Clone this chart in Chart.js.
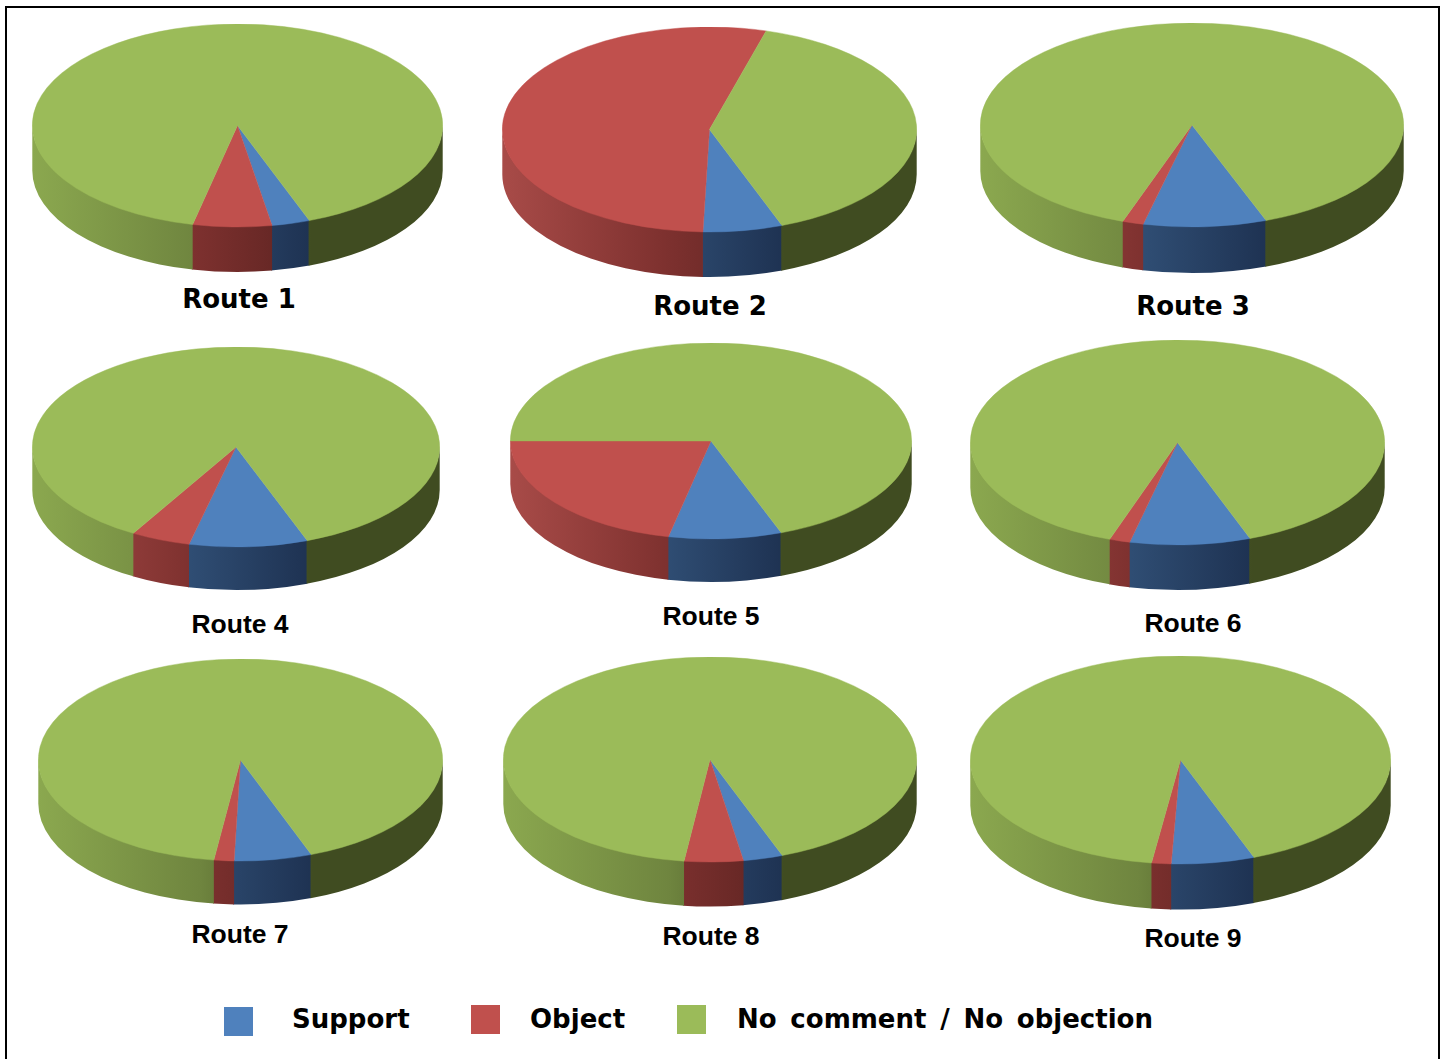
<!DOCTYPE html>
<html>
<head>
<meta charset="utf-8">
<title>Route responses</title>
<script src="https://cdn.jsdelivr.net/npm/chart.js@4"></script>
<style>
    html, body { margin: 0; background: #ffffff; }
    #page { position: relative; width: 1446px; height: 1059px; overflow: hidden; }
    #frame { position: absolute; left: 5px; top: 6px; width: 1431px; height: 1100px; border: 2px solid #000000; }
    canvas { position: absolute; }
    .swatch { position: absolute; width: 29px; height: 29px; }
    #labels { position: absolute; left: 0; top: 0; }
</style>
</head>
<body>
<div id="page">
    <div id="frame"></div>
    <svg id="labels" width="1446" height="1059"></svg>
</div>
<script>
// share of responses per route, in percent
const routes = ['Route 1', 'Route 2', 'Route 3', 'Route 4', 'Route 5', 'Route 6', 'Route 7', 'Route 8', 'Route 9'];
const seriesNames = ['Support', 'Object', 'No comment / No objection'];
const support = [3.0, 6.2, 9.4, 9.4, 9.1, 9.4, 6.2, 3.1, 6.4];
const object = [6.2, 53.9, 1.6, 4.7, 21.6, 1.6, 1.6, 4.6, 1.5];
const noComment = [90.8, 39.9, 89.0, 85.9, 69.3, 89.0, 92.2, 92.3, 92.1];

// where each tilted pie sits on the page
const pieBoxes = [
    { cx: 237.5, cy: 125.5, rx: 205.5, ry: 101.5, depth: 45 },
    { cx: 709.5, cy: 129.5, rx: 207.5, ry: 102.5, depth: 45 },
    { cx: 1192, cy: 125, rx: 212, ry: 102, depth: 46 },
    { cx: 236, cy: 447, rx: 204, ry: 100, depth: 43 },
    { cx: 711, cy: 441, rx: 201, ry: 98, depth: 43 },
    { cx: 1177.5, cy: 442.5, rx: 207.5, ry: 102.5, depth: 45 },
    { cx: 240.5, cy: 760, rx: 202.5, ry: 101, depth: 43.5 },
    { cx: 710, cy: 759.5, rx: 207, ry: 102.5, depth: 44.5 },
    { cx: 1180.5, cy: 760, rx: 210.5, ry: 104, depth: 45.5 }
];
const routeLabelX = [239, 710, 1193, 240, 711, 1193, 240, 711, 1193];
const routeLabelY = [308, 315, 315, 633, 625, 632, 943, 945, 947];

const topColors = ['#4f81bd', '#c0504d', '#9bbb59'];
// side wall shading, left to right across the pie
const wallStops = [
    [[0, '#3f648f'], [0.39, '#2f4d73'], [0.68, '#1e3252'], [1, '#1c2f4d']],
    [[0, '#a84b48'], [0.39, '#7e312f'], [0.6, '#662725'], [1, '#5e2523']],
    [[0, '#8ba84f'], [0.4, '#6f853f'], [0.68, '#404c21'], [1, '#404c21']]
];
const startAngle = 159.5;

// clip a slice's angle range to the front half, which is the only part with a visible wall
function frontRanges(a1, a2) {
    var out = [];
    for (var k = -1; k <= 1; k++) {
        var lo = Math.max(a1, k * 2 * Math.PI);
        var hi = Math.min(a2, k * 2 * Math.PI + Math.PI);
        if (hi > lo) out.push([lo, hi]);
    }
    return out;
}

const tiltPlugin = {
    id: 'tilt',
    beforeDatasetsDraw(chart, args, opts) {
        const ctx = chart.ctx;
        const arcs = chart.getDatasetMeta(0).data;
        const rx = arcs[0].outerRadius;
        const cx = arcs[0].x;

        // walls first, the top face is painted over them
        arcs.forEach(function(arc, i) {
            var grad = ctx.createLinearGradient(cx - rx, 0, cx + rx, 0);
            wallStops[i].forEach(function(s) { grad.addColorStop(s[0], s[1]); });
            frontRanges(arc.startAngle, arc.endAngle).forEach(function(r) {
                // tuck the wall a pixel under the top face and overlap its neighbour to hide seams
                var end = r[1] + 0.004;
                ctx.beginPath();
                ctx.ellipse(cx, opts.ry - 1, rx, opts.ry, 0, r[0], end);
                ctx.ellipse(cx, opts.ry + opts.depth, rx, opts.ry, 0, end, r[0], true);
                ctx.closePath();
                ctx.fillStyle = grad;
                ctx.fill();
            });
        });

        // squash the round pie into an ellipse at the top of the canvas
        ctx.save();
        ctx.translate(0, opts.ry);
        ctx.scale(1, opts.ry / rx);
        ctx.translate(0, -arcs[0].y);
    },
    afterDatasetsDraw(chart) {
        chart.ctx.restore();
    }
};

const page = document.getElementById('page');
const labels = document.getElementById('labels');

function addText(x, y, str, font, size, anchor, wordGap) {
    var t = document.createElementNS('http://www.w3.org/2000/svg', 'text');
    t.setAttribute('x', x);
    t.setAttribute('y', y);
    t.setAttribute('text-anchor', anchor);
    t.setAttribute('font-family', font);
    t.setAttribute('font-size', size);
    t.setAttribute('font-weight', 'bold');
    t.setAttribute('fill', '#000000');
    t.setAttribute('word-spacing', wordGap);
    t.textContent = str;
    labels.appendChild(t);
}

routes.forEach(function(name, i) {
    const box = pieBoxes[i];
    const canvas = document.createElement('canvas');
    canvas.width = box.rx * 2;
    canvas.height = box.rx * 2;
    canvas.style.left = (box.cx - box.rx) + 'px';
    canvas.style.top = (box.cy - box.ry) + 'px';
    page.appendChild(canvas);

    new Chart(canvas, {
        type: 'pie',
        data: {
            labels: seriesNames,
            datasets: [{
                data: [support[i], object[i], noComment[i]],
                backgroundColor: topColors,
                borderColor: topColors,
                borderWidth: 0.6
            }]
        },
        options: {
            responsive: false,
            animation: false,
            rotation: startAngle,
            events: [],
            plugins: {
                legend: { display: false },
                tooltip: { enabled: false },
                tilt: { ry: box.ry, depth: box.depth }
            }
        },
        plugins: [tiltPlugin]
    });

    // the top row uses the wider face
    const font = i < 3 ? 'DejaVu Sans' : 'Liberation Sans';
    addText(routeLabelX[i], routeLabelY[i], name, font, i < 3 ? 26 : 26.5, 'middle', 0);
});

// legend along the bottom
const swatchX = [224, 471, 677];
const swatchY = [1007, 1005, 1005];
const legendTextX = [292, 530, 737];
seriesNames.forEach(function(name, i) {
    var sw = document.createElement('div');
    sw.className = 'swatch';
    sw.style.left = swatchX[i] + 'px';
    sw.style.top = swatchY[i] + 'px';
    sw.style.background = topColors[i];
    page.appendChild(sw);
    addText(legendTextX[i], 1028, name, 'DejaVu Sans', 26, 'start', 4.7);
});
</script>
</body>
</html>
